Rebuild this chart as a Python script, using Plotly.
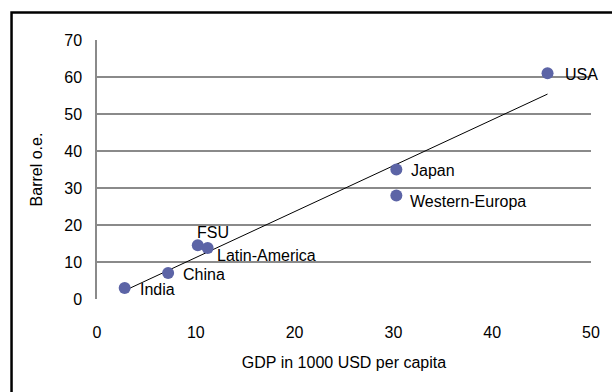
import numpy as np
import plotly.graph_objects as go

regions = ["India", "China", "FSU", "Latin-America", "Japan", "Western-Europa", "USA"]
gdp = [2.8, 7.2, 10.2, 11.2, 30.3, 30.3, 45.6]
barrel = [3.0, 7.0, 14.5, 13.8, 35.0, 28.0, 61.0]
x_ticks = [0, 10, 20, 30, 40, 50]
y_ticks = [0, 10, 20, 30, 40, 50, 60, 70]

# label offsets (pixels) relative to each marker
label_shift = {
    "India": (13, -2), "China": (13, -1), "FSU": (-3, 13),
    "Latin-America": (7, -8), "Japan": (13, -1),
    "Western-Europa": (12, -6), "USA": (15, -1),
}

slope, intercept = np.polyfit(gdp, barrel, 1)
xt = np.array([min(gdp), max(gdp)])
yt = slope * xt + intercept

font = "Liberation Sans, Arial, sans-serif"
FS = 16
fig = go.Figure()
fig.add_trace(go.Scatter(x=xt, y=yt, mode="lines",
                         line=dict(color="black", width=1), hoverinfo="skip"))
fig.add_trace(go.Scatter(x=gdp, y=barrel, mode="markers",
                         marker=dict(size=12, color="#5C64A6"), text=regions))

for name, gx, by in zip(regions, gdp, barrel):
    dx, dy = label_shift[name]
    fig.add_annotation(x=gx, y=by, text=name, showarrow=False,
                       xanchor="left", yanchor="middle", xshift=dx, yshift=dy,
                       font=dict(family=font, size=FS, color="black"))

fig.add_shape(type="rect", xref="paper", yref="paper",
              x0=-0.173, y0=-0.5, x1=1.2, y1=1.106,
              line=dict(color="black", width=2.5), fillcolor="rgba(0,0,0,0)", layer="below")

fig.update_layout(
    width=612, height=392,
    margin=dict(l=97, r=19, t=40, b=93),
    paper_bgcolor="white", plot_bgcolor="white",
    showlegend=False,
    font=dict(family=font, size=FS, color="black"),
    xaxis=dict(range=[0, 50], tickvals=x_ticks, showgrid=False, zeroline=False,
               showline=False, ticks="", ticklabelstandoff=22,
               title=dict(text="GDP in 1000 USD per capita", standoff=16,
                          font=dict(size=FS))),
    yaxis=dict(range=[0, 70], tickvals=y_ticks, showgrid=True, gridcolor="#8A8A8A",
               gridwidth=1.5, zeroline=False, showline=True, linecolor="#8A8A8A",
               linewidth=1.5, ticks="", ticklabelstandoff=10,
               title=dict(text="Barrel o.e.", standoff=18, font=dict(size=FS))),
)
fig.write_html("out.html", config={"displayModeBar": False},
               post_script="document.body.style.margin='0';")
